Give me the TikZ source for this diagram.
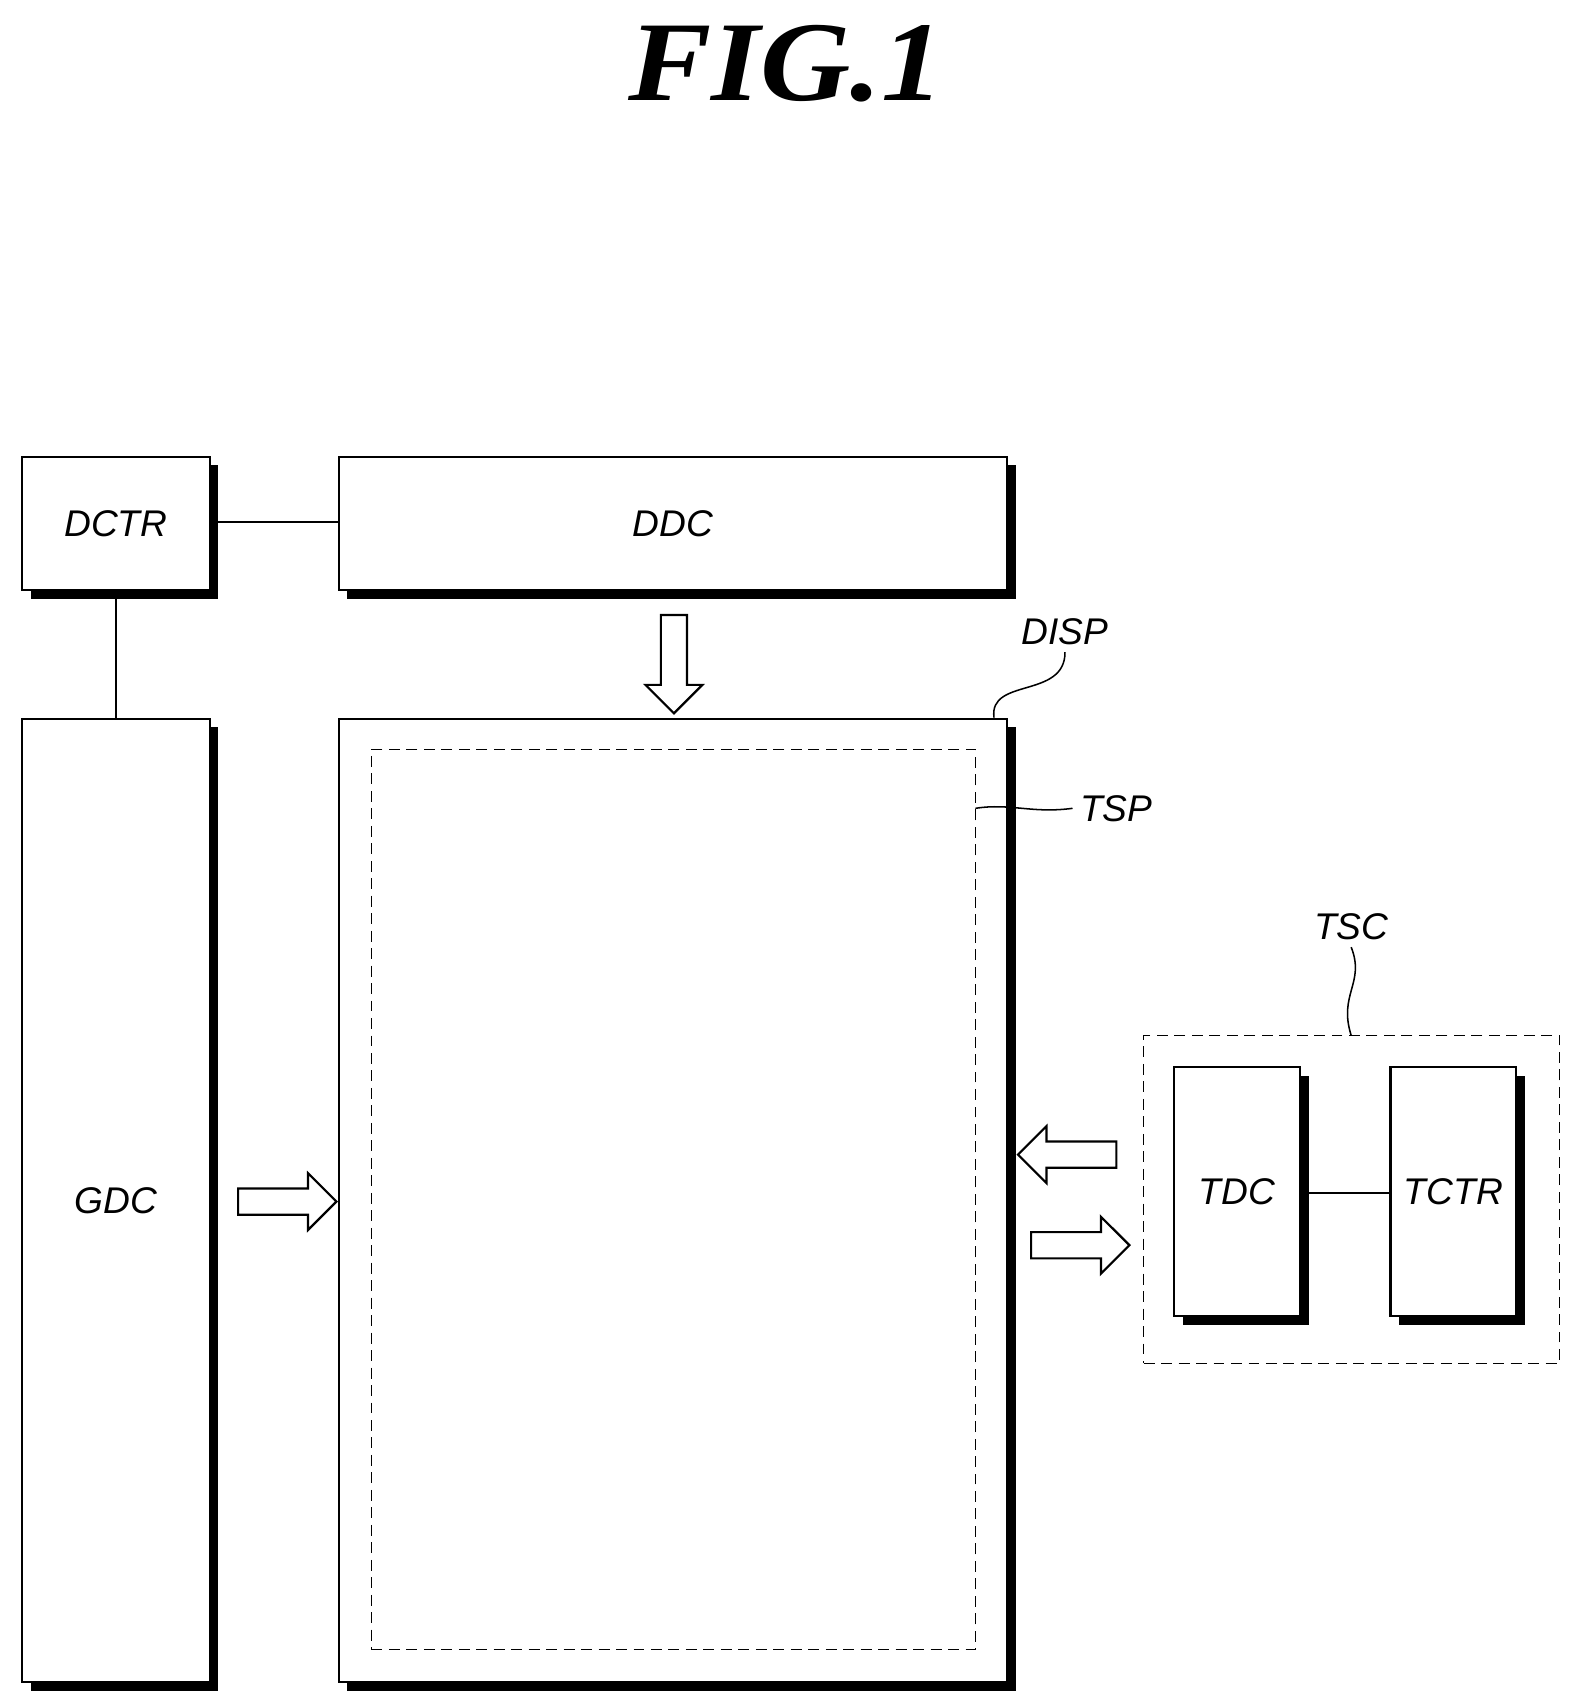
\documentclass[tikz,border=0pt]{standalone}
\usepackage{fontspec}
\setmainfont{Liberation Sans}
\newfontfamily\titlefont{Liberation Serif}
\usetikzlibrary{shapes.arrows,shadows}
\begin{document}
\begin{tikzpicture}[x=0.5pt,y=-0.5pt,
  box/.style={draw,line width=1pt,fill=white,inner sep=0pt,font=\itshape\fontsize{17}{17}\selectfont,
    drop shadow={shadow xshift=4pt,shadow yshift=-4pt,fill=black,opacity=1}},
  dbox/.style={draw,line width=0.6pt,dash pattern=on 5pt off 3pt,inner sep=0pt},
  harrow/.style={single arrow,draw,line width=1pt,fill=white,inner sep=0pt,minimum width=25pt,single arrow head extend=7pt,minimum height=45pt,single arrow tip angle=90},
  lbl/.style={font=\itshape\fontsize{17}{17}\selectfont},
  wire/.style={line width=0.7pt}]
\useasboundingbox (0,0) rectangle (1440,1560);
\node[font=\titlefont\bfseries\itshape\fontsize{52}{52}\selectfont,xscale=1.1] (title) at (720,58) {FIG.1};
\node[box,minimum width=86pt,minimum height=61pt] (dctr) at (106,479) {DCTR};
\node[box,minimum width=306pt,minimum height=61pt] (ddc) at (616,479) {DDC};
\node[box,minimum width=86pt,minimum height=441pt] (gdc) at (106,1099) {GDC};
\node[box,minimum width=306pt,minimum height=441pt] (disp) at (616,1099) {};
\node[dbox,minimum width=276.5pt,minimum height=412pt] (tsp) at (616.5,1098) {};
\node[dbox,minimum width=190.5pt,minimum height=150pt] (tsc) at (1237.5,1098) {};
\node[box,minimum width=57.5pt,minimum height=114pt] (tdc) at (1132.5,1091) {TDC};
\node[box,minimum width=57.5pt,minimum height=114pt] (tctr) at (1330.5,1091) {TCTR};
\draw[wire] (dctr.east |- 0,478) -- (ddc.west |- 0,478);
\draw[wire] (dctr.south) -- (gdc.north);
\draw[wire] (tdc.east |- 0,1092) -- (tctr.west |- 0,1092);
\node[harrow,shape border rotate=270] (a1) at (617,602) {\phantom{\rule{11pt}{11pt}}};
\node[harrow] (a2) at (257,1100) {\phantom{\rule{11pt}{11pt}}};
\node[harrow,shape border rotate=180] (a3) at (983,1057) {\phantom{\rule{11pt}{11pt}}};
\node[harrow] (a4) at (983,1140) {\phantom{\rule{11pt}{11pt}}};
\node[lbl] (ldisp) at (975,578) {DISP};
\node[lbl] (ltsp) at (1022,740) {TSP};
\node[lbl] (ltsc) at (1237,848) {TSC};
\coordinate (cdisp) at (910,657);
\coordinate (ctsp) at (893,740);
\coordinate (ctsc) at (1237,948);
\draw[wire] (cdisp) .. controls (905,620) and (975,640) .. (ldisp.south);
\draw[wire] (ctsp) .. controls (925,735) and (945,745) .. (ltsp.west);
\draw[wire] (ltsc.south) .. controls (1250,900) and (1225,910) .. (ctsc);
\end{tikzpicture}
\end{document}
